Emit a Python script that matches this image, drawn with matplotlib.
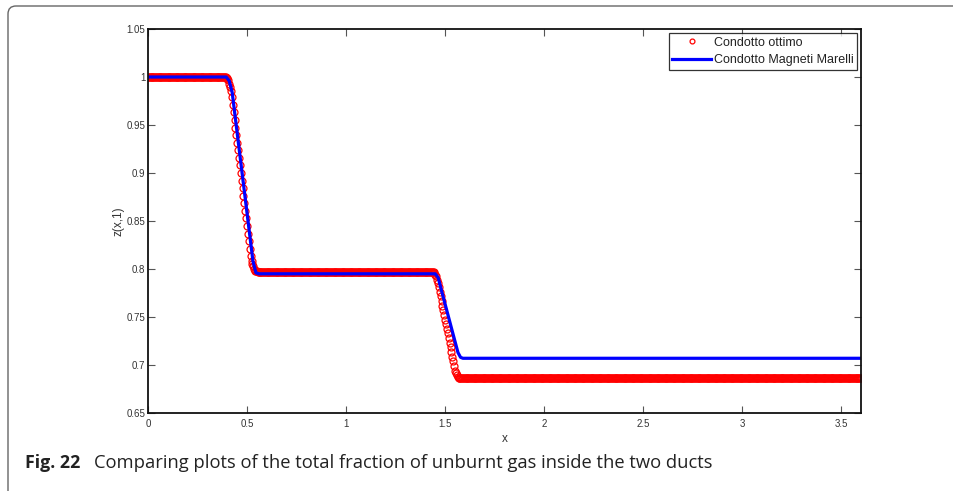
import numpy as np
import matplotlib
matplotlib.use("Agg")
import matplotlib.pyplot as plt
from matplotlib.patches import FancyBboxPatch

# --- data (knots of the piecewise curves) ---
ottimo_x = [0.0, 0.39, 0.405, 0.42, 0.52, 0.54, 0.56, 1.44, 1.455, 1.47, 1.55, 1.565, 1.58, 3.6]
ottimo_z = [1.0, 1.0, 0.997, 0.985, 0.81, 0.798, 0.797, 0.797, 0.793, 0.780, 0.694, 0.687, 0.686, 0.686]
marelli_x = [0.0, 0.395, 0.41, 0.425, 0.53, 0.545, 0.56, 1.45, 1.465, 1.48, 1.565, 1.578, 1.59, 3.6]
marelli_z = [1.0, 1.0, 0.996, 0.984, 0.808, 0.796, 0.795, 0.795, 0.791, 0.779, 0.713, 0.708, 0.707, 0.707]
n_markers = 800

xticks = [0, 0.5, 1, 1.5, 2, 2.5, 3, 3.5]
xticklabels = ["0", "0.5", "1", "1.5", "2", "2.5", "3", "3.5"]
yticks = [0.65, 0.7, 0.75, 0.8, 0.85, 0.9, 0.95, 1, 1.05]
yticklabels = ["0.65", "0.7", "0.75", "0.8", "0.85", "0.9", "0.95", "1", "1.05"]

plt.rcParams['font.family'] = ['Liberation Sans', 'DejaVu Sans']

W, H = 954, 491
fig = plt.figure(figsize=(W / 100, H / 100), dpi=100)

# rounded outer frame (in inches = pixels/100)
frame = FancyBboxPatch((8 / 100, -1.0), 12.0, (H - 6) / 100 + 1.0,
                       boxstyle="round,pad=0,rounding_size=0.08",
                       transform=fig.dpi_scale_trans, fill=False,
                       edgecolor="#666666", linewidth=1.0)
fig.patches.append(frame)

ax = fig.add_axes([148 / W, 1 - 413 / H, (861 - 148) / W, (413 - 29) / H])

xs = np.linspace(ottimo_x[0], ottimo_x[-1], n_markers)
zs = np.interp(xs, ottimo_x, ottimo_z)
ax.plot(xs, zs, linestyle="none", marker="o", markersize=5.0,
        markerfacecolor="none", markeredgecolor="#ff0000", markeredgewidth=0.9,
        label="Condotto ottimo")
ax.plot(marelli_x, marelli_z, color="#0000ff", linewidth=2.3,
        label="Condotto Magneti Marelli")

ax.set_xlim(0, 3.6)
ax.set_ylim(0.65, 1.05)
ax.set_xticks(xticks)
ax.set_xticklabels(xticklabels)
ax.set_yticks(yticks)
ax.set_yticklabels(yticklabels)
ax.tick_params(direction="in", top=True, right=True, length=5, width=0.8,
               color="#555555", labelsize=7, labelcolor="#333333")
ax.tick_params(axis="x", pad=4)
ax.tick_params(axis="y", pad=2)
for s in ax.spines.values():
    s.set_linewidth(1.3)
    s.set_color("#111111")

ax.set_xlabel("x", fontsize=8.5, color="#333333", labelpad=3)
ax.set_ylabel("z(x,1)", fontsize=8.5, color="#333333", labelpad=1)

leg = ax.legend(loc="upper right", fontsize=9, frameon=True, fancybox=False,
                borderpad=0.3, handlelength=3.1, handletextpad=0.2,
                labelspacing=0.45, borderaxespad=0.3, markerscale=0.7)
leg.get_frame().set_edgecolor("#000000")
leg.get_frame().set_linewidth(0.9)
for t in leg.get_texts():
    t.set_color("#222222")

# caption
fig.text(25 / W, 1 - 463 / H, "Fig. 22", fontsize=12.8, fontweight="bold",
         family="Open Sans", color="#222222", va="center", ha="left")
fig.text(94 / W, 1 - 463 / H,
         "Comparing plots of the total fraction of unburnt gas inside the two ducts",
         fontsize=13.2, family="Open Sans", color="#222222", va="center", ha="left")

fig.savefig("out.png", dpi=100)
